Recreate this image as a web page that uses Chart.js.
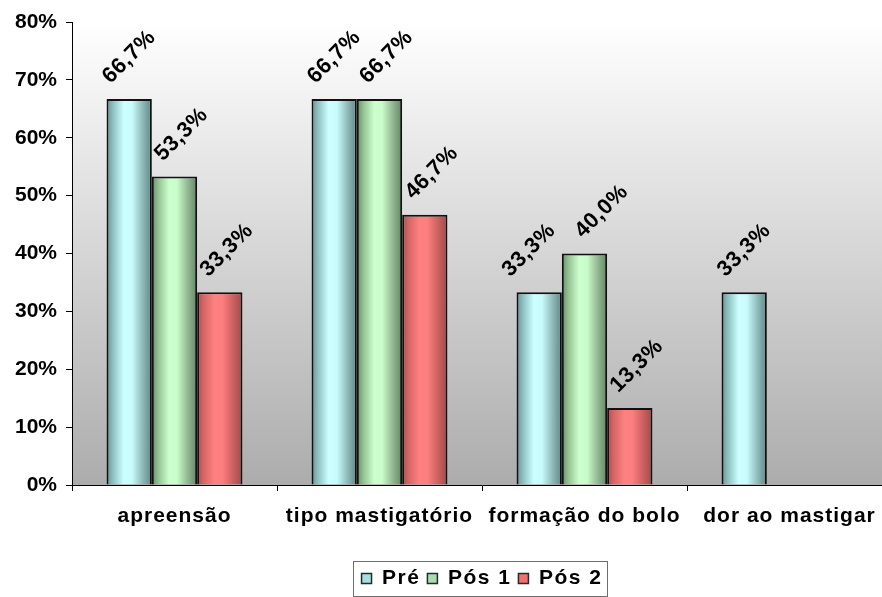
<!DOCTYPE html>
<html>
<head>
<meta charset="utf-8">
<script src="https://cdn.jsdelivr.net/npm/chart.js@4.4.1/dist/chart.umd.min.js"></script>
<style>
  html, body { margin: 0; padding: 0; background: #fff; overflow: hidden; width: 882px; height: 597px; }
  #wrap { position: absolute; left: 0; top: 0; width: 892px; height: 599px; }
</style>
</head>
<body>
<div id="wrap"><canvas id="c"></canvas></div>
<script>
// Categories and series (percent values)
const categories = ['apreensão', 'tipo mastigatório', 'formação do bolo', 'dor ao mastigar'];
const seriesNames = ['Pré', 'Pós 1', 'Pós 2'];
const pre  = [66.7, 66.7, 33.3, 33.3];
const pos1 = [53.3, 66.7, 40.0, null];
const pos2 = [33.3, 46.7, 13.3, null];
const yTicks = [0, 10, 20, 30, 40, 50, 60, 70, 80];

const FONT = '"Liberation Sans", Arial, sans-serif';

// Cylinder-like horizontal shading per series
const shading = [
  [[0, '#679191'], [0.14, '#8ec0c0'], [0.38, '#ccffff'], [0.56, '#c8fcfc'], [0.8, '#8eb8b8'], [1, '#618585']],
  [[0, '#678d67'], [0.14, '#92c092'], [0.38, '#ccffcc'], [0.56, '#c8fcc8'], [0.8, '#91b591'], [1, '#638563']],
  [[0, '#a84c4c'], [0.14, '#d46666'], [0.38, '#ff8080'], [0.56, '#fc7e7e'], [0.8, '#ca6060'], [1, '#9e4a4a']]
];
const flat = ['#b0e6e6', '#b0e0b0', '#f07474'];
const swatch = ['#a8dede', '#acdcac', '#f07070'];

const fmt = v => v.toFixed(1).replace('.', ',') + '%';

// run a method with a given canvas letter spacing
function spaced(obj, method, spacing) {
  if (!obj || obj['_sp_' + method]) return;
  const orig = obj[method];
  obj[method] = function (...args) {
    const c = this.ctx;
    const prev = c.letterSpacing;
    c.letterSpacing = spacing;
    const r = orig.apply(this, args);
    c.letterSpacing = prev;
    return r;
  };
  obj['_sp_' + method] = true;
}

const LABEL_RISE = 42;      // label centre above the bar top
const LABEL_SHIFT = [0, 7, 7];
const MIN_SEP = 24;         // minimum spacing across the 45° text direction

const paint = {
  id: 'paint',
  beforeLayout(chart) {
    spaced(chart.scales.x, 'drawLabels', '1px');
    spaced(chart.legend, 'fit', '1.5px');
    spaced(chart.legend, 'draw', '1.5px');
  },
  beforeDraw(chart) {
    const { ctx, chartArea: a } = chart;
    ctx.letterSpacing = '0px';
    const g = ctx.createLinearGradient(0, a.top, 0, a.bottom);
    g.addColorStop(0, '#ffffff');
    g.addColorStop(1, '#acacac');
    ctx.save();
    ctx.fillStyle = g;
    ctx.fillRect(a.left, a.top, a.right - a.left, a.bottom - a.top);
    ctx.restore();
  },
  beforeDatasetsDraw(chart) {
    const ctx = chart.ctx;
    chart.data.datasets.forEach((ds, i) => {
      chart.getDatasetMeta(i).data.forEach(el => {
        if (!el.options || !isFinite(el.x)) return;
        const x0 = el.x - el.width / 2;
        const g = ctx.createLinearGradient(x0, 0, x0 + el.width, 0);
        shading[i].forEach(([o, c]) => g.addColorStop(o, c));
        el.options.backgroundColor = g;
      });
    });
  },
  afterDatasetsDraw(chart) {
    const ctx = chart.ctx;
    const n = chart.data.datasets.length;
    ctx.save();
    ctx.letterSpacing = '0.5px';
    ctx.font = 'bold 22px ' + FONT;
    ctx.fillStyle = '#000';
    ctx.textAlign = 'center';
    ctx.textBaseline = 'middle';
    chart.data.labels.forEach((_, j) => {
      // label anchors for this category, left to right
      const items = [];
      for (let i = 0; i < n; i++) {
        const v = chart.data.datasets[i].data[j];
        if (v === null || v === undefined) continue;
        const el = chart.getDatasetMeta(i).data[j];
        items.push({ x: el.x + LABEL_SHIFT[i], y: el.y - LABEL_RISE, text: fmt(v) });
      }
      // push neighbours apart when the rotated texts would collide
      for (let k = 1; k < items.length; k++) {
        const a = items[k - 1], b = items[k];
        const s = ((b.x - a.x) + (b.y - a.y)) / Math.SQRT2;
        if (s < MIN_SEP) {
          const d = (MIN_SEP - s) * Math.SQRT2 / 2;
          a.x -= d; b.x += d;
        }
      }
      items.forEach(it => {
        ctx.save();
        ctx.translate(it.x, it.y);
        ctx.rotate(-Math.PI / 4);
        ctx.fillText(it.text, 0, 0);
        ctx.restore();
      });
    });
    ctx.restore();
  },
  afterDraw(chart) {
    const lg = chart.legend;
    if (!lg || !lg.legendHitBoxes || !lg.legendHitBoxes.length) return;
    const hb = lg.legendHitBoxes;
    const left = Math.round(hb[0].left - 9) + 0.5;
    const last = hb[hb.length - 1];
    const right = Math.round(last.left + last.width + 5) + 0.5;
    const top = Math.round(lg.top) + 0.5;
    const bottom = 596.5;
    const ctx = chart.ctx;
    ctx.save();
    ctx.strokeStyle = '#6e6e6e';
    ctx.lineWidth = 1;
    ctx.strokeRect(left, top, right - left, bottom - top);
    ctx.restore();
  }
};

const series = [pre, pos1, pos2];

new Chart(document.getElementById('c'), {
  type: 'bar',
  data: {
    labels: categories,
    datasets: series.map((d, i) => ({
      label: seriesNames[i],
      data: d,
      backgroundColor: () => flat[i],
      borderColor: '#111',
      borderWidth: 2,
      barPercentage: 1,
      categoryPercentage: 0.663
    }))
  },
  options: {
    responsive: true,
    maintainAspectRatio: false,
    devicePixelRatio: 1,
    animation: false,
    layout: { padding: { top: 22, left: 0, right: 0, bottom: 0 } },
    plugins: {
      tooltip: { enabled: false },
      legend: {
        position: 'bottom',
        fullSize: false,
        labels: {
          font: { family: FONT, size: 21, weight: 'bold' },
          color: '#000',
          boxWidth: 10,
          boxHeight: 10,
          padding: 7,
          generateLabels: (chart) => chart.data.datasets.map((ds, i) => ({
            text: ds.label,
            fillStyle: swatch[i],
            strokeStyle: '#1e2e2e',
            lineWidth: 1.5,
            fontColor: '#000',
            datasetIndex: i,
            hidden: false
          }))
        }
      }
    },
    scales: {
      x: {
        offset: true,
        grid: { display: true, drawOnChartArea: false, drawTicks: true, tickLength: 6, color: '#000', offset: true },
        border: { display: true, color: '#000', width: 1 },
        ticks: {
          color: '#000',
          font: { family: FONT, size: 21, weight: 'bold' },
          padding: 13,
          maxRotation: 0,
          autoSkip: false
        },
        afterFit: (s) => { s.height = 76; }
      },
      y: {
        min: 0,
        max: 80,
        grid: { drawOnChartArea: false, drawTicks: true, tickLength: 6, color: '#000' },
        border: { display: true, color: '#000', width: 1 },
        afterBuildTicks: (s) => { s.ticks = yTicks.map(v => ({ value: v })); },
        ticks: {
          color: '#000',
          font: { family: FONT, size: 21, weight: 'bold' },
          padding: 9,
          callback: (v) => v + '%'
        },
        afterFit: (s) => { s.width = 72; }
      }
    }
  },
  plugins: [paint]
});
</script>
</body>
</html>
